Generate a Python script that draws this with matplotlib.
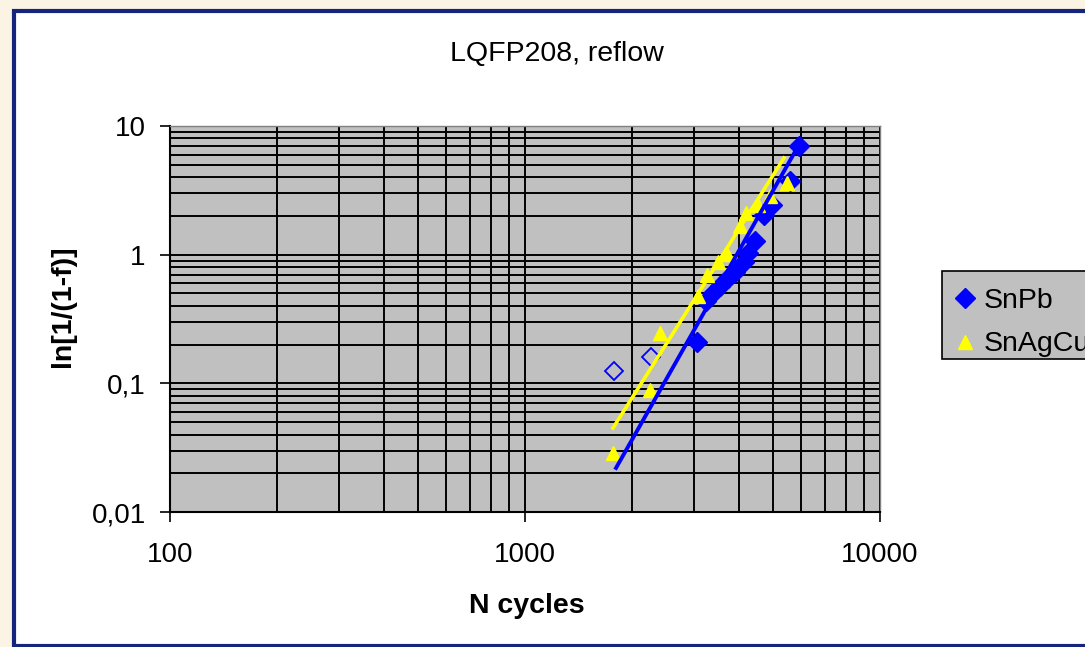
import matplotlib
matplotlib.use("Agg")
import matplotlib.pyplot as plt
from matplotlib.patches import Rectangle
from matplotlib.ticker import LogLocator, FixedLocator, FixedFormatter, NullFormatter

# ---------------- data ----------------
title = "LQFP208, reflow"
x_label = "N cycles"
y_label = "ln[1/(1-f)]"

snpb_x = [5910, 5580, 4960, 4710, 4445, 4250, 4140, 3900, 3730, 3540, 3385, 3235, 3050]
snpb_y = [7.0, 3.74, 2.43, 2.03, 1.28, 1.03, 0.88, 0.73, 0.66, 0.57, 0.50, 0.44, 0.21]

snpb_hollow_x = [1780, 2265]
snpb_hollow_y = [0.125, 0.16]

snagcu_x = [5470, 4900, 4530, 4190, 4030, 3710, 3500, 3255, 3070, 2400, 2250, 1770]
snagcu_y = [3.6, 2.86, 2.43, 2.11, 1.67, 1.01, 0.88, 0.70, 0.48, 0.246, 0.089, 0.029]

snpb_fit_x = [1805, 5760]
snpb_fit_y = [0.022, 6.3]
snagcu_fit_x = [1770, 5365]
snagcu_fit_y = [0.045, 5.64]

x_ticks = [100, 1000, 10000]
x_tick_labels = ["100", "1000", "10000"]
y_ticks = [0.01, 0.1, 1, 10]
y_tick_labels = ["0,01", "0,1", "1", "10"]

series_names = ["SnPb", "SnAgCu"]

# ---------------- figure ----------------
plt.rcParams['font.family'] = ['Liberation Sans', 'DejaVu Sans']

W, H = 1085, 647
fig = plt.figure(figsize=(W / 100, H / 100), dpi=100, facecolor="#fbf4e4")

# white chart frame with dark navy border (extends past right edge)
frame = Rectangle((14 / W, 1 - 646 / H), 1.2, (646 - 11) / H,
                  transform=fig.transFigure, facecolor="white",
                  edgecolor="#15257d", linewidth=3, zorder=-10)
fig.patches.append(frame)

ax_l, ax_r, ax_t, ax_b = 170, 880, 126, 512
ax = fig.add_axes([ax_l / W, 1 - ax_b / H, (ax_r - ax_l) / W, (ax_b - ax_t) / H])
ax.set_zorder(1)
ax.set_facecolor("#c0c0c0")
ax.set_xscale("log")
ax.set_yscale("log")
ax.set_xlim(100, 10000)
ax.set_ylim(0.01, 10)

ax.xaxis.set_major_locator(FixedLocator(x_ticks))
ax.xaxis.set_major_formatter(FixedFormatter(x_tick_labels))
ax.yaxis.set_major_locator(FixedLocator(y_ticks))
ax.yaxis.set_major_formatter(FixedFormatter(y_tick_labels))
ax.xaxis.set_minor_locator(LogLocator(base=10, subs=range(2, 10), numticks=20))
ax.yaxis.set_minor_locator(LogLocator(base=10, subs=range(2, 10), numticks=20))
ax.xaxis.set_minor_formatter(NullFormatter())
ax.yaxis.set_minor_formatter(NullFormatter())

ax.set_axisbelow(True)
ax.grid(which="both", color="black", linewidth=1.4)
ax.tick_params(which="minor", length=0)
ax.tick_params(which="major", direction="out", length=7.5, width=1.2,
               labelsize=20, color="black")
ax.tick_params(axis="x", which="major", pad=14)
ax.tick_params(axis="y", which="major", pad=10)

for side in ["left", "bottom"]:
    ax.spines[side].set_color("black")
    ax.spines[side].set_linewidth(1.5)
for side in ["top", "right"]:
    ax.spines[side].set_color("#808080")
    ax.spines[side].set_linewidth(1.0)

# data
ax.plot(snpb_x, snpb_y, linestyle="none", marker="D", markersize=10.5,
        color="#0000ff", label=series_names[0], zorder=3)
ax.plot(snpb_hollow_x, snpb_hollow_y, linestyle="none", marker="D", markersize=9,
        markerfacecolor="none", markeredgecolor="#0000ff", markeredgewidth=1.3, zorder=3)
ax.plot(snagcu_x, snagcu_y, linestyle="none", marker="^", markersize=10.5,
        color="#ffff00", label=series_names[1], zorder=4)
ax.plot(snpb_fit_x, snpb_fit_y, color="#0000ff", linewidth=2.8, zorder=5)
ax.plot(snagcu_fit_x, snagcu_fit_y, color="#ffff00", linewidth=2.6, zorder=6)

# texts
fig.text(557 / W, 1 - 54 / H, title, ha="center", va="center", fontsize=20.5)
fig.text(527 / W, 1 - 606 / H, x_label, ha="center", va="center",
         fontsize=20.5, fontweight="bold")
fig.text(63 / W, 1 - 306 / H, y_label, ha="center", va="center", rotation=90,
         fontsize=20.5, fontweight="bold")

# legend box (extends past the right edge, as in the reference)
leg_box = Rectangle((942 / W, 1 - 359 / H), 0.2, (359 - 271) / H,
                    transform=fig.transFigure, facecolor="#c0c0c0",
                    edgecolor="black", linewidth=1.2, zorder=4)
fig.patches.append(leg_box)

leg = fig.legend(loc="upper left", bbox_to_anchor=(942 / W, 1 - 277 / H),
                 bbox_transform=fig.transFigure, fontsize=20.5, frameon=False,
                 handlelength=0.8, handletextpad=0.25,
                 borderpad=0.4, labelspacing=0.6, borderaxespad=0)
leg.set_zorder(5)

fig.savefig("out.png", dpi=100, facecolor=fig.get_facecolor())
